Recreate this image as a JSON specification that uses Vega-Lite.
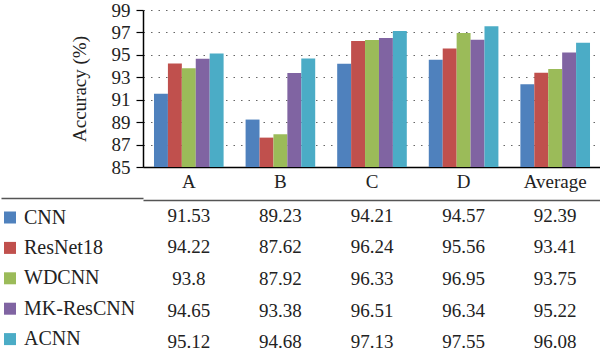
{
  "$schema": "https://vega.github.io/schema/vega-lite/v6.json",
  "padding": {"top": 1, "left": 0, "right": 0, "bottom": 0},
  "autosize": {"type": "pad"},
  "config": {"view": {"stroke": null}, "font": "Liberation Serif"},
  "data": {"values": [
    {"cat": "A", "model": "CNN", "value": 91.53},
    {"cat": "A", "model": "ResNet18", "value": 94.22},
    {"cat": "A", "model": "WDCNN", "value": 93.8},
    {"cat": "A", "model": "MK-ResCNN", "value": 94.65},
    {"cat": "A", "model": "ACNN", "value": 95.12},
    {"cat": "B", "model": "CNN", "value": 89.23},
    {"cat": "B", "model": "ResNet18", "value": 87.62},
    {"cat": "B", "model": "WDCNN", "value": 87.92},
    {"cat": "B", "model": "MK-ResCNN", "value": 93.38},
    {"cat": "B", "model": "ACNN", "value": 94.68},
    {"cat": "C", "model": "CNN", "value": 94.21},
    {"cat": "C", "model": "ResNet18", "value": 96.24},
    {"cat": "C", "model": "WDCNN", "value": 96.33},
    {"cat": "C", "model": "MK-ResCNN", "value": 96.51},
    {"cat": "C", "model": "ACNN", "value": 97.13},
    {"cat": "D", "model": "CNN", "value": 94.57},
    {"cat": "D", "model": "ResNet18", "value": 95.56},
    {"cat": "D", "model": "WDCNN", "value": 96.95},
    {"cat": "D", "model": "MK-ResCNN", "value": 96.34},
    {"cat": "D", "model": "ACNN", "value": 97.55},
    {"cat": "Average", "model": "CNN", "value": 92.39},
    {"cat": "Average", "model": "ResNet18", "value": 93.41},
    {"cat": "Average", "model": "WDCNN", "value": 93.75},
    {"cat": "Average", "model": "MK-ResCNN", "value": 95.22},
    {"cat": "Average", "model": "ACNN", "value": 96.08}
  ]},
  "spacing": 6,
  "resolve": {"scale": {"color": "independent"}, "legend": {"color": "independent"}},
  "vconcat": [
    {
      "width": 458,
      "height": 157,
      "mark": {"type": "bar"},
      "encoding": {
        "x": {"field": "cat", "type": "nominal", "sort": ["A", "B", "C", "D", "Average"],
              "scale": {"paddingInner": 0.24, "paddingOuter": 0.12},
              "axis": {"labels": true, "ticks": false, "domainColor": "#000", "domainWidth": 1.5, "title": null,
                       "labelAngle": 0, "labelFont": "Liberation Serif", "labelFontSize": 19, "labelColor": "#222",
                       "labelPadding": 5}},
        "xOffset": {"field": "model", "type": "nominal", "sort": ["CNN", "ResNet18", "WDCNN", "MK-ResCNN", "ACNN"]},
        "y": {"field": "value", "type": "quantitative",
              "scale": {"domain": [85, 99], "nice": false, "zero": false},
              "axis": {"values": [85, 87, 89, 91, 93, 95, 97, 99], "tickSize": 7, "tickColor": "#000", "tickWidth": 1.2,
                       "domainColor": "#000", "domainWidth": 1.5,
                       "labelFont": "Liberation Serif", "labelFontSize": 19, "labelColor": "#222", "labelPadding": 6,
                       "title": "Accuracy (%)", "titleFont": "Liberation Serif", "titleFontSize": 19, "titleFontWeight": "normal",
                       "titleColor": "#222", "titlePadding": 22,
                       "grid": true, "gridDash": [1.5, 6], "gridColor": "#666", "gridWidth": 1.2}},
        "y2": {"datum": 85},
        "color": {"field": "model", "type": "nominal",
                  "scale": {"domain": ["CNN", "ResNet18", "WDCNN", "MK-ResCNN", "ACNN"],
                            "range": ["#4f81bd", "#c0504d", "#9bbb59", "#8064a2", "#4bacc6"]},
                  "legend": null}
      }
    },
    {
      "width": 458,
      "height": 158,
      "layer": [
        {
          "mark": {"type": "text", "font": "Liberation Serif", "fontSize": 19, "color": "#222"},
          "encoding": {
            "x": {"field": "cat", "type": "nominal", "sort": ["A", "B", "C", "D", "Average"],
                  "scale": {"paddingInner": 0, "paddingOuter": 0},
                  "axis": {"orient": "top", "labels": false, "ticks": false, "domain": true, "domainColor": "#555",
                           "domainWidth": 1.5, "title": null}},
            "y": {"field": "model", "type": "nominal", "sort": ["CNN", "ResNet18", "WDCNN", "MK-ResCNN", "ACNN"],
                  "scale": {"paddingInner": 0, "paddingOuter": 0.09},
                  "axis": {"values": ["CNN"], "tickOffset": -18, "labels": false, "domain": false, "ticks": true,
                           "tickSize": 142, "tickColor": "#555", "tickWidth": 1.5, "grid": false, "title": null}},
            "text": {"field": "value", "type": "nominal"}
          }
        },
        {
          "mark": {"type": "square", "opacity": 0},
          "encoding": {
            "color": {"field": "model", "type": "nominal",
                      "scale": {"domain": ["CNN", "ResNet18", "WDCNN", "MK-ResCNN", "ACNN"],
                                "range": ["#4f81bd", "#c0504d", "#9bbb59", "#8064a2", "#4bacc6"]},
                      "legend": {"orient": "left", "title": " ", "titleFontSize": 1, "titlePadding": 6.5, "offset": -136,
                                 "padding": 0,
                                 "symbolType": "square", "symbolSize": 144, "symbolOpacity": 1, "symbolStrokeWidth": 0,
                                 "labelFont": "Liberation Serif", "labelFontSize": 20, "labelColor": "#222",
                                 "labelOffset": 4, "rowPadding": 10.4, "labelLimit": 300}}
          }
        }
      ]
    }
  ]
}
